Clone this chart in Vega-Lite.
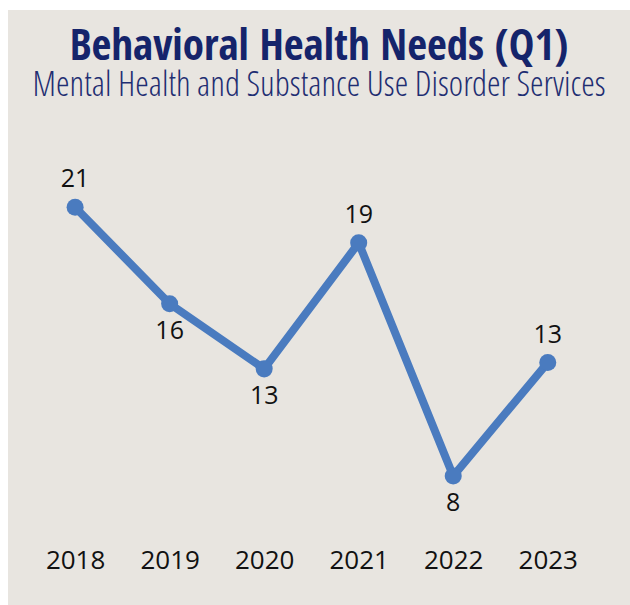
{
  "$schema": "https://vega.github.io/schema/vega-lite/v6.json",
  "width": 622,
  "height": 595,
  "autosize": {"type": "none"},
  "padding": {"left": 8, "top": 10, "right": 0, "bottom": 0},
  "background": "#ffffff",
  "config": {"view": {"fill": "#e8e5e0", "stroke": null}},
  "title": {
    "text": "Behavioral Health Needs (Q1)",
    "subtitle": "Mental Health and Substance Use Disorder Services",
    "anchor": "middle",
    "offset": -92,
    "font": "Noto Sans Condensed, Open Sans Condensed, DejaVu Sans Condensed, sans-serif",
    "fontSize": 43,
    "fontWeight": "bold",
    "color": "#15246b",
    "subtitleFont": "Open Sans Condensed Light, Noto Sans Condensed Light, Noto Sans ExtraCondensed Light, Noto Sans Condensed, sans-serif",
    "subtitleFontSize": 34.5,
    "subtitleFontWeight": "normal",
    "subtitleColor": "#1f2e72",
    "subtitlePadding": 0
  },
  "data": {
    "values": [
      {"year": 2018, "value": 20.7, "label": "21"},
      {"year": 2019, "value": 16.1, "label": "16"},
      {"year": 2020, "value": 13.0, "label": "13"},
      {"year": 2021, "value": 19.0, "label": "19"},
      {"year": 2022, "value": 7.9, "label": "8"},
      {"year": 2023, "value": 13.3, "label": "13"}
    ]
  },
  "encoding": {
    "x": {
      "field": "year",
      "type": "quantitative",
      "scale": {"domain": [2017.29, 2023.87], "nice": false, "zero": false},
      "axis": {
        "values": [2018, 2019, 2020, 2021, 2022, 2023],
        "format": "d",
        "title": null,
        "domain": false,
        "ticks": false,
        "grid": false,
        "labelFont": "Open Sans",
        "labelFontSize": 26,
        "labelColor": "#111111",
        "labelFlush": false,
        "labelOverlap": false,
        "labelPadding": 0,
        "offset": -58
      }
    },
    "y": {
      "field": "value",
      "type": "quantitative",
      "scale": {"domain": [1.755, 30.09], "nice": false, "zero": false},
      "axis": null
    }
  },
  "layer": [
    {"mark": {"type": "line", "color": "#4a7bbf", "strokeWidth": 8}},
    {"mark": {"type": "point", "filled": true, "color": "#4a7bbf", "size": 290, "opacity": 1}},
    {
      "transform": [{"filter": "indexof([2018, 2021, 2023], datum.year) >= 0"}],
      "mark": {"type": "text", "font": "Open Sans", "fontSize": 25, "color": "#111111", "dy": -28},
      "encoding": {"text": {"field": "label"}}
    },
    {
      "transform": [{"filter": "indexof([2018, 2021, 2023], datum.year) < 0"}],
      "mark": {"type": "text", "font": "Open Sans", "fontSize": 25, "color": "#111111", "dy": 27},
      "encoding": {"text": {"field": "label"}}
    }
  ]
}
